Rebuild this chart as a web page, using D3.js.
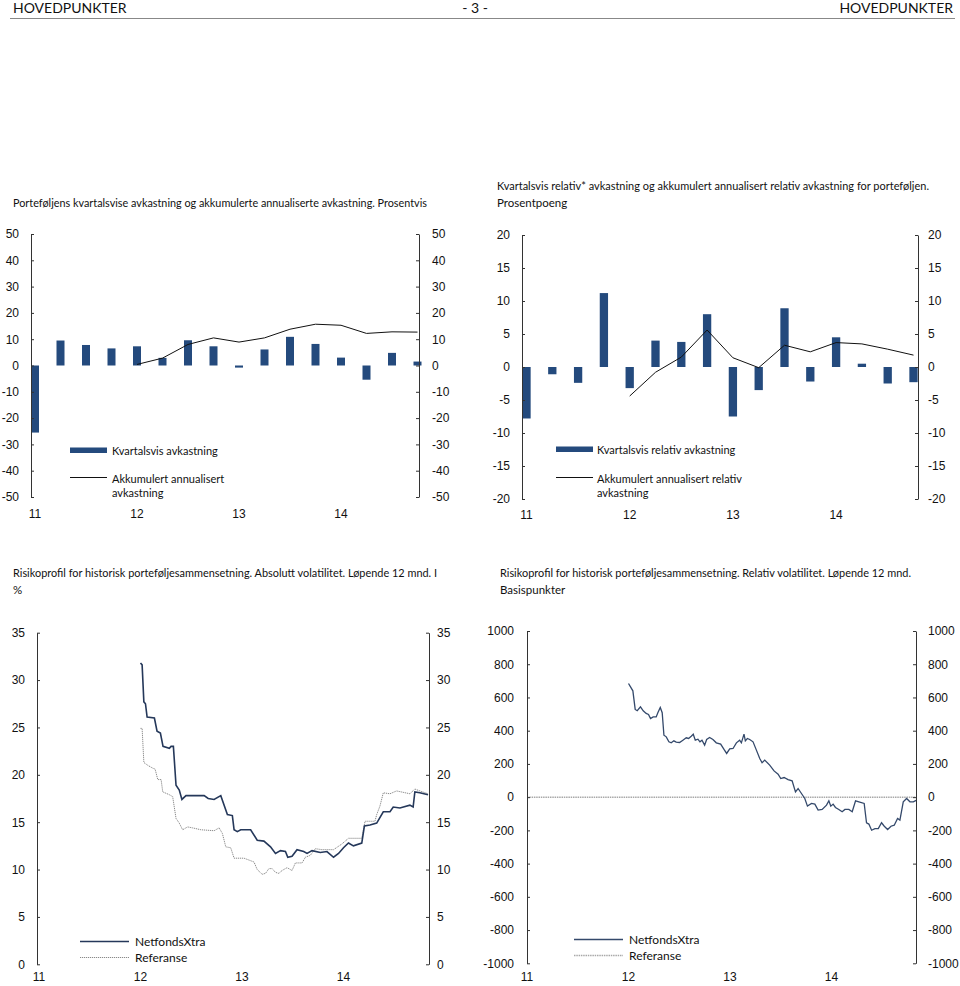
<!DOCTYPE html>
<html><head><meta charset="utf-8">
<script src="https://cdn.jsdelivr.net/npm/d3@7"></script>
<style>body{margin:0;background:#fff}svg{display:block}</style>
</head><body><svg id="c" width="960" height="986"></svg>
<script>
// ---------- DATA ----------
const quarters = ["2011Q1","2011Q2","2011Q3","2011Q4","2012Q1","2012Q2","2012Q3","2012Q4",
                  "2013Q1","2013Q2","2013Q3","2013Q4","2014Q1","2014Q2","2014Q3","2014Q4"];
const yearTickQuarters = ["2011Q1","2012Q1","2013Q1","2014Q1"];
const yearTickLabels = ["11","12","13","14"];
const yearTickValues = [2011, 2012, 2013, 2014];

const kvartalsvis = [-25.5, 9.5, 7.8, 6.5, 7.3, 2.9, 9.6, 7.3, -0.8, 6.1, 10.9, 8.2, 3.0, -5.4, 4.8, 1.5];
const akkumulert  = [null, null, null, null, 0.4, 2.8, 8.0, 10.5, 8.9, 10.5, 13.8, 15.7, 15.3, 12.2, 12.8, 12.7];

const relativKvartal = [-7.8, -1.1, -2.4, 11.2, -3.2, 4.0, 3.8, 8.0, -7.5, -3.5, 8.9, -2.2, 4.5, 0.5, -2.5, -2.3];
const relativAkk     = [null, null, null, null, -4.4, -0.8, 1.5, 5.6, 1.4, -0.1, 3.3, 2.3, 3.7, 3.5, 2.7, 1.8];

// absolute volatility [decimal year, %]
const volNetfonds = [[2012.000,31.8],[2012.016,31.6],[2012.033,27.7],[2012.049,27.5],[2012.065,26.1],[2012.137,26.0],
 [2012.163,24.6],[2012.196,24.4],[2012.222,23.0],[2012.284,22.8],[2012.301,23.0],[2012.324,23.0],[2012.350,18.9],
 [2012.382,18.4],[2012.408,17.4],[2012.448,17.8],[2012.529,17.8],[2012.627,17.8],[2012.667,17.5],[2012.725,17.4],
 [2012.791,17.8],[2012.856,15.8],[2012.905,15.7],[2012.922,14.2],[2012.954,14.0],[2012.987,14.2],[2013.085,14.2],
 [2013.150,13.1],[2013.216,13.0],[2013.281,12.4],[2013.330,11.7],[2013.379,12.0],[2013.428,11.9],[2013.451,11.3],
 [2013.493,11.4],[2013.542,12.1],[2013.608,11.9],[2013.641,11.7],[2013.690,12.0],[2013.771,11.8],[2013.837,11.9],
 [2013.902,11.3],[2013.951,11.7],[2014.000,12.3],[2014.049,12.8],[2014.098,12.5],[2014.180,12.8],[2014.206,14.6],
 [2014.261,14.7],[2014.327,14.9],[2014.392,16.1],[2014.458,16.1],[2014.490,16.6],[2014.556,16.5],[2014.654,16.8],
 [2014.686,16.6],[2014.703,18.2],[2014.752,18.1],[2014.833,17.9]];
const volReferanse = [[2012.000,24.9],[2012.016,24.9],[2012.033,21.3],[2012.072,21.0],[2012.121,20.7],[2012.144,20.6],
 [2012.170,19.5],[2012.203,19.5],[2012.219,18.2],[2012.284,17.9],[2012.317,17.7],[2012.350,15.4],[2012.382,14.9],
 [2012.415,14.2],[2012.464,14.5],[2012.513,14.4],[2012.595,14.2],[2012.725,14.1],[2012.775,14.4],[2012.807,13.8],
 [2012.840,12.4],[2012.889,12.3],[2012.922,11.2],[2013.020,11.2],[2013.069,11.0],[2013.118,10.8],[2013.150,10.0],
 [2013.199,9.5],[2013.232,9.6],[2013.265,10.1],[2013.297,10.1],[2013.330,9.7],[2013.363,9.6],[2013.395,9.9],
 [2013.444,10.2],[2013.493,9.9],[2013.526,10.7],[2013.592,10.7],[2013.624,11.3],[2013.673,11.5],[2013.722,12.2],
 [2013.788,12.1],[2013.853,12.1],[2013.902,12.1],[2013.984,12.7],[2014.049,13.3],[2014.180,13.3],[2014.212,15.1],
 [2014.310,15.1],[2014.327,15.8],[2014.359,16.7],[2014.392,18.1],[2014.458,18.0],[2014.523,18.3],[2014.654,18.0],
 [2014.703,18.5],[2014.752,18.3],[2014.833,18.0]];

// relative volatility [decimal year, basis points]
const relNetfonds = [[2012.000,684],[2012.020,664],[2012.043,640],[2012.066,528],[2012.086,520],[2012.118,544],
 [2012.145,520],[2012.174,504],[2012.197,498],[2012.217,473],[2012.243,483],[2012.273,483],[2012.289,508],[2012.313,540],
 [2012.332,508],[2012.349,373],[2012.372,363],[2012.398,333],[2012.421,327],[2012.447,339],[2012.470,331],[2012.503,329],
 [2012.536,343],[2012.569,357],[2012.592,353],[2012.618,367],[2012.638,379],[2012.658,343],[2012.684,349],[2012.704,333],
 [2012.724,343],[2012.750,313],[2012.770,347],[2012.799,359],[2012.832,347],[2012.865,327],[2012.908,319],[2012.941,287],
 [2012.967,263],[2012.997,291],[2013.030,293],[2013.063,327],[2013.095,343],[2013.112,327],[2013.138,379],[2013.151,339],
 [2013.171,353],[2013.194,347],[2013.227,333],[2013.260,283],[2013.293,233],[2013.316,207],[2013.342,223],[2013.391,193],
 [2013.434,158],[2013.474,138],[2013.500,112],[2013.533,118],[2013.572,106],[2013.612,98],[2013.645,32],[2013.671,52],
 [2013.704,22],[2013.737,-8],[2013.763,-54],[2013.803,-38],[2013.836,-42],[2013.868,-78],[2013.908,-74],[2013.951,-48],
 [2013.974,-22],[2013.993,-54],[2014.016,-42],[2014.039,-62],[2014.072,-74],[2014.105,-88],[2014.132,-74],[2014.171,-74],
 [2014.204,-88],[2014.237,-22],[2014.270,-28],[2014.322,-38],[2014.345,-154],[2014.368,-162],[2014.395,-199],[2014.428,-189],
 [2014.461,-189],[2014.493,-154],[2014.520,-175],[2014.553,-195],[2014.586,-175],[2014.618,-169],[2014.651,-128],
 [2014.674,-138],[2014.707,-28],[2014.740,-8],[2014.773,-28],[2014.806,-28],[2014.839,-18]];
const relReferanse = [[2011.000,0],[2014.839,0]];

// ---------- DRAWING ----------
const svg = d3.select("#c");
const NUM = "'Liberation Sans', Arimo, Arial, sans-serif";
const TXT = "Lato, 'Open Sans', sans-serif";
const NAVY = "#244a7d";

function text(x, y, s, o = {}) {
  const t = svg.append("text").attr("x", x).attr("y", y).text(s)
    .attr("font-family", o.font || TXT).attr("font-size", o.size || 11)
    .attr("fill", o.fill || "#111").attr("dominant-baseline", "central")
    .attr("text-anchor", o.anchor || "start");
  if (o.len) t.attr("textLength", o.len).attr("lengthAdjust", "spacingAndGlyphs");
  return t;
}

// header
text(13, 7, "HOVEDPUNKTER", {size: 14});
text(475, 7, "- 3 -", {size: 14, anchor: "middle"});
text(953, 7, "HOVEDPUNKTER", {size: 14, anchor: "end"});
svg.append("line").attr("x1", 10).attr("x2", 955).attr("y1", 18.5).attr("y2", 18.5)
  .attr("stroke", "#888").attr("stroke-width", 1);

// titles
text(13, 202, "Porteføljens kvartalsvise avkastning og akkumulerte annualiserte avkastning. Prosentvis", {size: 11.5, len: 414});
text(497, 185, "Kvartalsvis relativ* avkastning og akkumulert annualisert relativ avkastning for porteføljen.", {size: 11.5, len: 432});
text(497, 202, "Prosentpoeng", {size: 11.5});
text(13, 572, "Risikoprofil for historisk porteføljesammensetning. Absolutt volatilitet. Løpende 12 mnd. I", {size: 11.5, len: 424});
text(13, 589, "%", {size: 11.5});
text(500, 572, "Risikoprofil for historisk porteføljesammensetning. Relativ volatilitet. Løpende 12 mnd.", {size: 11.5, len: 411});
text(500, 589, "Basispunkter", {size: 11.5});

function yAxes(y, xl, xr, ticks, padL, padR) {
  const fmt = d => String(d);
  const gl = svg.append("g").attr("transform", `translate(${xl},0)`)
    .call(d3.axisLeft(y).tickValues(ticks).tickSizeInner(-3).tickSizeOuter(0).tickPadding(padL).tickFormat(fmt));
  const gr = svg.append("g").attr("transform", `translate(${xr},0)`)
    .call(d3.axisRight(y).tickValues(ticks).tickSizeInner(-3).tickSizeOuter(0).tickPadding(padR).tickFormat(fmt));
  [gl, gr].forEach(g => {
    g.attr("font-family", NUM).attr("font-size", 12);
    g.selectAll("path,line").attr("stroke", "#333");
    g.selectAll("text").attr("fill", "#111");
  });
}

// ---- Chart 1 ----
{
  const x = d3.scalePoint().domain(quarters).range([35, 417.5]);
  const y = d3.scaleLinear().domain([-50, 50]).range([497, 234]);
  const bw = 8;
  svg.append("g").selectAll("rect").data(kvartalsvis).join("rect")
    .attr("x", (d, i) => x(quarters[i]) - bw / 2).attr("width", bw)
    .attr("y", d => y(Math.max(0, d))).attr("height", d => Math.abs(y(d) - y(0)))
    .attr("fill", NAVY);
  const line = d3.line().defined(d => d != null).x((d, i) => x(quarters[i])).y(d => y(d));
  svg.append("path").attr("d", line(akkumulert)).attr("fill", "none").attr("stroke", "#111").attr("stroke-width", 1);
  yAxes(y, 31, 419, d3.range(-50, 51, 10), 12, 13);
  yearTickQuarters.forEach((q, i) => text(x(q), 514, yearTickLabels[i], {font: NUM, size: 12, anchor: "middle"}));
  svg.append("rect").attr("x", 70).attr("y", 447.5).attr("width", 37).attr("height", 5.5).attr("fill", NAVY);
  text(112, 450, "Kvartalsvis avkastning", {size: 11});
  svg.append("line").attr("x1", 70).attr("x2", 107).attr("y1", 477.5).attr("y2", 477.5).attr("stroke", "#111");
  text(112, 478, "Akkumulert annualisert", {size: 11});
  text(112, 492, "avkastning", {size: 11});
}

// ---- Chart 2 ----
{
  const x = d3.scalePoint().domain(quarters).range([526.5, 913.5]);
  const y = d3.scaleLinear().domain([-20, 20]).range([499, 235]);
  const bw = 8.3;
  svg.append("g").selectAll("rect").data(relativKvartal).join("rect")
    .attr("x", (d, i) => x(quarters[i]) - bw / 2).attr("width", bw)
    .attr("y", d => y(Math.max(0, d))).attr("height", d => Math.abs(y(d) - y(0)))
    .attr("fill", NAVY);
  const line = d3.line().defined(d => d != null).x((d, i) => x(quarters[i])).y(d => y(d));
  svg.append("path").attr("d", line(relativAkk)).attr("fill", "none").attr("stroke", "#111").attr("stroke-width", 1);
  yAxes(y, 522, 918, d3.range(-20, 21, 5), 12, 10);
  yearTickQuarters.forEach((q, i) => text(x(q), 515, yearTickLabels[i], {font: NUM, size: 12, anchor: "middle"}));
  svg.append("rect").attr("x", 556).attr("y", 446.5).attr("width", 37).attr("height", 5.5).attr("fill", NAVY);
  text(597, 449.5, "Kvartalsvis relativ avkastning", {size: 11});
  svg.append("line").attr("x1", 556).attr("x2", 593).attr("y1", 477.5).attr("y2", 477.5).attr("stroke", "#111");
  text(597, 478, "Akkumulert annualisert relativ", {size: 11});
  text(597, 492, "avkastning", {size: 11});
}

// ---- Chart 3 ----
{
  const x = d3.scaleLinear().domain([2011, 2015]).range([39, 445]);
  const y = d3.scaleLinear().domain([0, 35]).range([964.3, 632.7]);
  const line = d3.line().x(d => x(d[0])).y(d => y(d[1]));
  svg.append("path").attr("d", line(volReferanse)).attr("fill", "none")
    .attr("stroke", "#8a8a8a").attr("stroke-width", 1).attr("stroke-dasharray", "1.2,0.8");
  svg.append("path").attr("d", line(volNetfonds)).attr("fill", "none")
    .attr("stroke", "#25385a").attr("stroke-width", 1.6);
  yAxes(y, 37, 429, d3.range(0, 36, 5), 12, 8);
  yearTickValues.forEach((v, i) => text(x(v), 977, yearTickLabels[i], {font: NUM, size: 12, anchor: "middle"}));
  svg.append("line").attr("x1", 80).attr("x2", 129).attr("y1", 941.5).attr("y2", 941.5).attr("stroke", "#25385a").attr("stroke-width", 1.6);
  text(135, 941, "NetfondsXtra", {size: 12});
  svg.append("line").attr("x1", 80).attr("x2", 129).attr("y1", 957.5).attr("y2", 957.5).attr("stroke", "#8a8a8a").attr("stroke-dasharray", "1.2,0.8");
  text(135, 957, "Referanse", {size: 12});
}

// ---- Chart 4 ----
{
  const x = d3.scaleLinear().domain([2011, 2015]).range([527, 933]);
  const y = d3.scaleLinear().domain([-1000, 1000]).range([963.3, 631]);
  const line = d3.line().x(d => x(d[0])).y(d => y(d[1]));
  svg.append("path").attr("d", line(relReferanse)).attr("fill", "none")
    .attr("stroke", "#a8a8a8").attr("stroke-width", 1.5).attr("stroke-dasharray", "1.5,0.8");
  svg.append("path").attr("d", line(relNetfonds)).attr("fill", "none")
    .attr("stroke", "#34496b").attr("stroke-width", 1.3);
  yAxes(y, 527, 916, d3.range(-1000, 1001, 200), 13, 12);
  yearTickValues.forEach((v, i) => text(x(v), 976.5, yearTickLabels[i], {font: NUM, size: 12, anchor: "middle"}));
  svg.append("line").attr("x1", 574).attr("x2", 623).attr("y1", 939.5).attr("y2", 939.5).attr("stroke", "#34496b").attr("stroke-width", 1.3);
  text(629, 939, "NetfondsXtra", {size: 12});
  svg.append("line").attr("x1", 574).attr("x2", 623).attr("y1", 955.5).attr("y2", 955.5).attr("stroke", "#a8a8a8").attr("stroke-width", 1.5).attr("stroke-dasharray", "1.5,0.8");
  text(629, 955.5, "Referanse", {size: 12});
}
</script></body></html>
